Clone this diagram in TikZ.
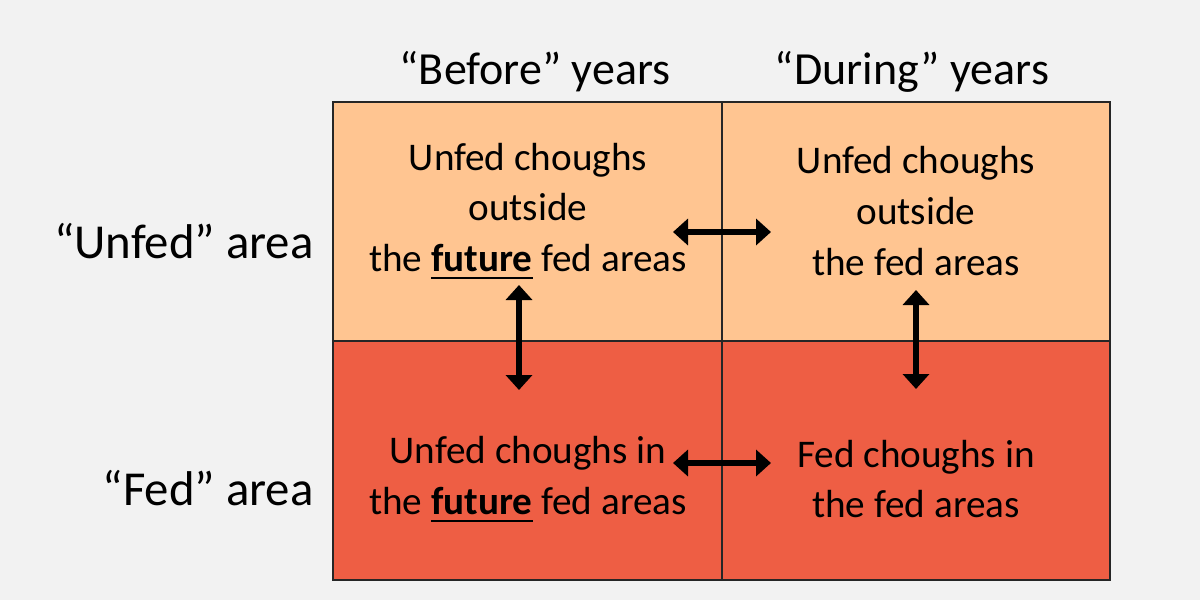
\documentclass[tikz,border=0pt]{standalone}
\usepackage{fontspec}
\setmainfont{Carlito}
\usetikzlibrary{arrows.meta}
\definecolor{bgc}{HTML}{F2F2F2}
\definecolor{topc}{HTML}{FFC591}
\definecolor{botc}{HTML}{EE5E44}
\tikzset{
  celltext/.style={align=center,font=\fontsize{19.6pt}{25.3pt}\selectfont,inner sep=0pt},
  headtext/.style={font=\fontsize{23pt}{27pt}\selectfont,inner sep=0pt},
  rowtext/.style={font=\fontsize{24.4pt}{28pt}\selectfont,inner sep=0pt,anchor=east},
  dbl/.style={line width=2.6pt,{Triangle[length=7.5pt,width=13pt]}-{Triangle[length=7.5pt,width=13pt]}},
  gridline/.style={line width=0.6pt,draw=black!85}
}
\newcommand{\fut}{\setbox0\hbox{\textbf{future}}\rlap{\rule[-3.9pt]{\wd0}{1.1pt}}\box0}
\begin{document}
\begin{tikzpicture}[x=0.5pt,y=-0.5pt]
\fill[bgc] (0,0) rectangle (1200,600);
\useasboundingbox (0,0) rectangle (1200,600);
\fill[topc] (333,102) rectangle (1110,341);
\fill[botc] (333,341) rectangle (1110,580);
\draw[gridline] (333,102) rectangle (1110,580);
\draw[gridline] (722,102) -- (722,580);
\draw[gridline] (333,341) -- (1110,341);
\node[headtext] (h1) at (535,72) {“Before” years};
\node[headtext] (h2) at (912,72) {“During” years};
\node[rowtext] (r1) at (314,241) {“Unfed” area};
\node[rowtext] (r2) at (314,488) {“Fed” area};
\node[celltext] (c11) at (528,211) {Unfed choughs\\outside\\the \fut{} fed areas};
\node[celltext] (c12) at (916,211) {Unfed choughs\\outside\\the fed areas};
\node[celltext] (c21) at (528,479) {Unfed choughs in\\the \fut{} fed areas};
\node[celltext] (c22) at (916,479) {Fed choughs in\\the fed areas};
\coordinate (a1l) at (673,232); \coordinate (a1r) at (771,232);
\coordinate (a2l) at (673,463); \coordinate (a2r) at (771,463);
\coordinate (v1t) at (519,285); \coordinate (v1b) at (519,390);
\coordinate (v2t) at (916,290); \coordinate (v2b) at (916,389);
\draw[dbl] (a1l) -- (a1r);
\draw[dbl] (a2l) -- (a2r);
\draw[dbl] (v1t) -- (v1b);
\draw[dbl] (v2t) -- (v2b);
\end{tikzpicture}
\end{document}
